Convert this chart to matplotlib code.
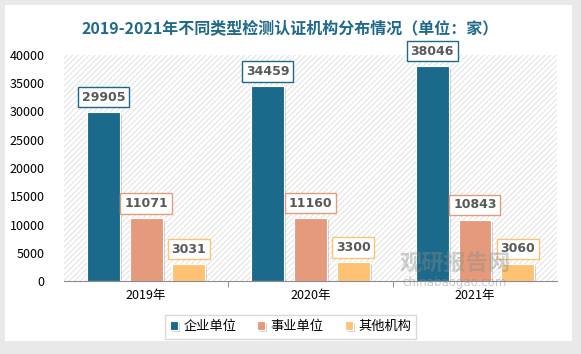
import matplotlib.pyplot as plt
import matplotlib.patheffects as pe
from matplotlib.patches import Rectangle
import numpy as np

plt.rcParams['font.family'] = ['Noto Sans CJK SC', 'DejaVu Sans']
plt.rcParams['hatch.linewidth'] = 0.5

# data
years = ["2019年", "2020年", "2021年"]
series_names = ["企业单位", "事业单位", "其他机构"]
qiye = [29905, 34459, 38046]
shiye = [11071, 11160, 10843]
qita = [3031, 3300, 3060]
colors = ["#1b6a8c", "#e59b7b", "#ffc274"]

fig = plt.figure(figsize=(5.81, 3.54), dpi=100, facecolor="#e9e9e9")
# white card
fig.patches.append(Rectangle((0.009, 0.037), 0.976, 0.95, transform=fig.transFigure,
                             facecolor="white", edgecolor="none", zorder=-5))

ax = fig.add_axes([0.110, 0.206, 0.849, 0.639])
ax.set_facecolor("white")
# hatched background
ax.add_patch(Rectangle((0, 0), 1, 1, transform=ax.transAxes, facecolor="white",
                       edgecolor="#d6d6d6", hatch="//////", linewidth=0, zorder=0))

x = np.arange(len(years))
w = 0.2
off = 0.26
shadow = [pe.SimplePatchShadow(offset=(1.5, -1.5), shadow_rgbFace="#888888", alpha=0.35), pe.Normal()]

for i, (vals, c, name) in enumerate(zip([qiye, shiye, qita], colors, series_names)):
    pos = x + (i - 1) * off
    bars = ax.bar(pos, vals, width=w, color=c, edgecolor="white", linewidth=0.8,
                  label=name, zorder=3)
    for b in bars:
        b.set_path_effects(shadow)
    for p, v in zip(pos, vals):
        ax.annotate(str(v), (p, v), xytext=(0, 6), textcoords="offset points",
                    ha="center", va="bottom", fontsize=9, fontweight="bold", color="#595959",
                    family=["DejaVu Sans"],
                    bbox=dict(boxstyle="square,pad=0.3", facecolor="white", edgecolor=c, linewidth=1.0),
                    zorder=5)

ax.set_xlim(-0.5, 2.5)
ax.set_ylim(0, 40000)
ax.set_yticks(range(0, 40001, 5000))
ax.set_xticks(x)
ax.set_xticklabels(years, fontsize=9)
ax.set_xticks([0.5, 1.5], minor=True)
ax.tick_params(axis="x", which="major", length=0, pad=6)
ax.tick_params(axis="x", which="minor", length=4, color="#808080")
ax.tick_params(axis="y", length=0, labelsize=9, pad=14)
for s in ["top", "right", "left"]:
    ax.spines[s].set_visible(False)
ax.spines["bottom"].set_color("#8c8c8c")
ax.spines["bottom"].set_zorder(6)

fig.text(0.5, 0.92, "2019-2021年不同类型检测认证机构分布情况（单位：家）", ha="center", va="center",
         fontsize=11.5, fontweight="bold", color="#1f6a8a")

# watermark
fig.text(0.783, 0.255, "观研报告网", ha="center", va="center", fontsize=16, fontweight="bold",
         color="#8a8a8a", alpha=0.4, zorder=4)
fig.text(0.783, 0.203, "chinabaogao.com", ha="center", va="center", fontsize=8.5,
         color="#8a8a8a", alpha=0.45, zorder=4, family=["DejaVu Sans"])

leg = fig.legend(loc="center", bbox_to_anchor=(0.5, 0.077), ncol=3, frameon=True, fancybox=False,
                 fontsize=9.5, handlelength=0.6, handleheight=0.6, handletextpad=0.4,
                 columnspacing=1.6, borderpad=0.4)
leg.get_frame().set_edgecolor("#d0d0d0")
leg.get_frame().set_linewidth(1.0)

fig.savefig("out.png", dpi=100, facecolor=fig.get_facecolor())
